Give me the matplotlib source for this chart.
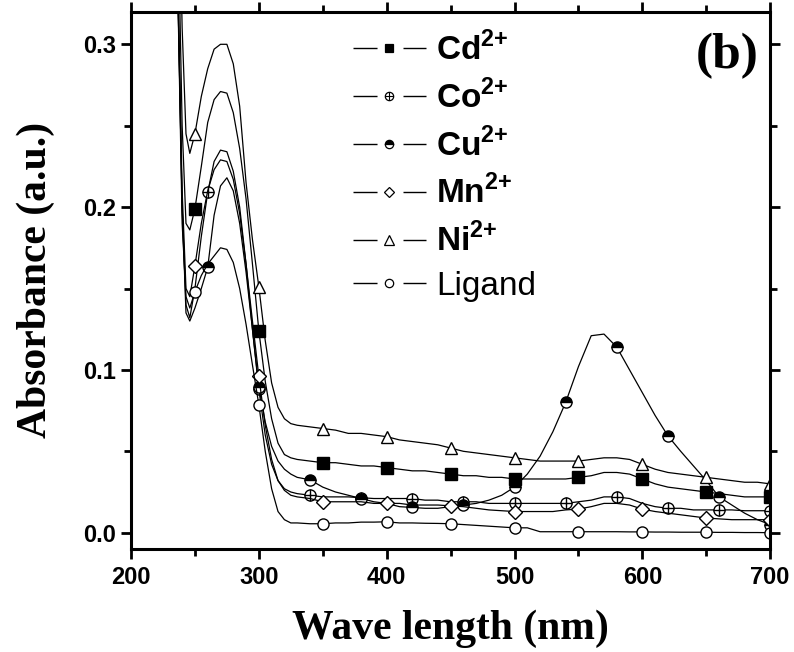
import matplotlib
matplotlib.use("Agg")
import matplotlib.pyplot as plt
from matplotlib.lines import Line2D
from matplotlib.legend_handler import HandlerTuple
from matplotlib.ticker import MultipleLocator

plt.rcParams["font.family"] = ["Liberation Sans", "DejaVu Sans"]
plt.rcParams["mathtext.fontset"] = "custom"
plt.rcParams["mathtext.rm"] = "Liberation Sans:bold"
plt.rcParams["mathtext.bf"] = "Liberation Sans:bold"

# shared wavelength grid (nm)
wavelength = [235, 240, 243, 246, 250, 255, 260, 265, 270, 275, 280, 285, 290, 295,
              300, 305, 310, 315, 320, 325, 330, 340, 350, 360, 370, 380, 390, 400,
              410, 420, 430, 440, 450, 460, 470, 480, 490, 500, 510, 520, 530, 540,
              550, 560, 570, 580, 590, 600, 610, 620, 630, 640, 650, 660, 670, 680,
              690, 700]

cd = [0.45, 0.25, 0.19, 0.186, 0.199, 0.225, 0.252, 0.266, 0.271, 0.270, 0.258, 0.236, 0.205, 0.165,
      0.124, 0.093, 0.070, 0.055, 0.048, 0.046, 0.045, 0.044, 0.043, 0.043, 0.042, 0.041, 0.041, 0.040,
      0.039, 0.038, 0.038, 0.037, 0.036, 0.035, 0.035, 0.034, 0.034, 0.033, 0.033, 0.033, 0.033, 0.033,
      0.034, 0.035, 0.037, 0.037, 0.036, 0.033, 0.030, 0.028, 0.027, 0.026, 0.025, 0.024, 0.023, 0.022,
      0.022, 0.022]
co = [0.40, 0.20, 0.14, 0.132, 0.150, 0.182, 0.209, 0.228, 0.235, 0.234, 0.222, 0.200, 0.165, 0.125,
      0.088, 0.060, 0.042, 0.032, 0.027, 0.025, 0.024, 0.023, 0.022, 0.022, 0.022, 0.0215, 0.021, 0.021,
      0.021, 0.021, 0.020, 0.020, 0.019, 0.019, 0.019, 0.018, 0.018, 0.018, 0.018, 0.018, 0.018, 0.018,
      0.019, 0.020, 0.022, 0.022, 0.021, 0.018, 0.016, 0.015, 0.015, 0.014, 0.014, 0.014, 0.014, 0.0135,
      0.0135, 0.0135]
cu = [0.40, 0.20, 0.135, 0.130, 0.138, 0.150, 0.163, 0.195, 0.213, 0.218, 0.210, 0.190, 0.160, 0.125,
      0.0895, 0.068, 0.053, 0.044, 0.039, 0.036, 0.034, 0.0325, 0.028, 0.025, 0.023, 0.021, 0.019, 0.018,
      0.016, 0.0155, 0.015, 0.015, 0.016, 0.017, 0.018, 0.020, 0.023, 0.028, 0.036, 0.047, 0.062, 0.080,
      0.102, 0.121, 0.122, 0.114, 0.100, 0.086, 0.072, 0.0595, 0.050, 0.041, 0.032, 0.022, 0.017, 0.012,
      0.008, 0.005]
mn = [0.40, 0.21, 0.15, 0.145, 0.164, 0.190, 0.210, 0.223, 0.229, 0.228, 0.217, 0.196, 0.165, 0.130,
      0.096, 0.066, 0.045, 0.032, 0.026, 0.023, 0.022, 0.021, 0.019, 0.019, 0.019, 0.019, 0.018, 0.018,
      0.018, 0.017, 0.017, 0.017, 0.0165, 0.016, 0.015, 0.014, 0.0135, 0.013, 0.013, 0.013, 0.013, 0.014,
      0.0145, 0.016, 0.018, 0.018, 0.017, 0.0145, 0.013, 0.012, 0.011, 0.010, 0.009, 0.0085, 0.008, 0.008,
      0.008, 0.008]
ni = [0.50, 0.31, 0.245, 0.233, 0.245, 0.268, 0.285, 0.297, 0.300, 0.300, 0.288, 0.262, 0.215, 0.180,
      0.151, 0.118, 0.092, 0.077, 0.070, 0.067, 0.066, 0.065, 0.064, 0.063, 0.061, 0.061, 0.060, 0.059,
      0.057, 0.056, 0.055, 0.054, 0.052, 0.050, 0.049, 0.048, 0.047, 0.046, 0.045, 0.044, 0.044, 0.044,
      0.044, 0.045, 0.046, 0.046, 0.045, 0.042, 0.039, 0.037, 0.036, 0.035, 0.034, 0.033, 0.032, 0.031,
      0.031, 0.030]
ligand = [0.40, 0.19, 0.145, 0.138, 0.148, 0.158, 0.165, 0.170, 0.175, 0.174, 0.166, 0.150, 0.128, 0.103,
          0.0785, 0.050, 0.027, 0.013, 0.008, 0.006, 0.006, 0.0055, 0.0055, 0.006, 0.006, 0.0065, 0.0065, 0.0067,
          0.006, 0.006, 0.0058, 0.0057, 0.0055, 0.005, 0.0045, 0.004, 0.0035, 0.003, 0.003, 0.0006, 0.0006, 0.0006,
          0.0006, 0.0006, 0.0006, 0.0006, 0.0005, 0.0005, 0.0004, 0.0004, 0.0003, 0.0003, 0.0003, 0.0002, 0.0002, 0.0001,
          0.0001, 0.0]

# where each series carries its symbols
marks_50 = [250, 300, 350, 400, 450, 500, 550, 600, 650, 700]
marks_40 = [260, 300, 340, 380, 420, 460, 500, 540, 580, 620, 660, 700]

labels = [r"Cd$^{\text{2+}}$", r"Co$^{\text{2+}}$", r"Cu$^{\text{2+}}$",
          r"Mn$^{\text{2+}}$", r"Ni$^{\text{2+}}$", "Ligand"]


def idx(marks):
    return [wavelength.index(w) for w in marks]


fig = plt.figure(figsize=(7.94, 6.52), dpi=100)
ax = fig.add_axes([0.165, 0.158, 0.805, 0.824])

lw = 0.9
ms = 8
common = dict(color="black", lw=lw, ms=ms, mec="black", mew=1.0)

ax.plot(wavelength, cd, marker="s", mfc="black", markevery=idx(marks_50), **common)
ax.plot(wavelength, co, marker="o", mfc="white", markevery=idx(marks_40), **common)
ax.plot(wavelength, co, lw=0, marker="+", ms=ms, mec="black", mew=1.0, markevery=idx(marks_40))
ax.plot(wavelength, cu, marker="o", fillstyle="top", mfc="black", mfcalt="white",
        markevery=idx(marks_40), **common)
ax.plot(wavelength, mn, marker="D", mfc="white", markevery=idx(marks_50), **{**common, "ms": 7.5})
ax.plot(wavelength, ni, marker="^", mfc="white", markevery=idx(marks_50), **{**common, "ms": 9})
ax.plot(wavelength, ligand, marker="o", mfc="white", markevery=idx(marks_50), **common)

ax.set_xlim(200, 700)
ax.set_ylim(-0.01, 0.32)

ax.xaxis.set_major_locator(MultipleLocator(100))
ax.xaxis.set_minor_locator(MultipleLocator(50))
ax.yaxis.set_major_locator(MultipleLocator(0.1))
ax.yaxis.set_minor_locator(MultipleLocator(0.05))
ax.yaxis.set_major_formatter(plt.FuncFormatter(lambda v, p: f"{v:.1f}"))

for s in ax.spines.values():
    s.set_linewidth(2.2)
ax.tick_params(which="both", direction="out", width=2, top=True, right=True)
ax.tick_params(which="major", length=7, labelsize=17)
ax.tick_params(which="minor", length=5)
ax.tick_params(axis="x", which="major", pad=5)
ax.tick_params(axis="y", which="major", pad=4)
for t in ax.get_xticklabels() + ax.get_yticklabels():
    t.set_fontweight("bold")

ax.set_xlabel("Wave length (nm)", family="Liberation Serif", fontweight="bold",
              fontsize=30, labelpad=15)
ax.set_ylabel("Absorbance (a.u.)", family="Liberation Serif", fontweight="bold",
              fontsize=30, labelpad=20)

ax.text(0.982, 0.918, "(b)", transform=ax.transAxes, ha="right", va="center",
        family="Liberation Serif", fontweight="bold", fontsize=37)

# legend proxies: short line, gap, marker, gap, short line
gap = (0, (17.3, 18.7, 17.3, 200))
pk = dict(color="black", lw=1.0, ls=gap, mec="black", mew=0.9, ms=6)
p_cd = Line2D([], [], marker="s", mfc="black", **pk)
p_co = Line2D([], [], marker="o", mfc="white", **pk)
p_co_plus = Line2D([], [], lw=0, marker="+", mec="black", mew=0.8, ms=6)
p_cu = Line2D([], [], marker="o", fillstyle="top", mfc="black", mfcalt="white", **pk)
p_mn = Line2D([], [], marker="D", mfc="white", **{**pk, "ms": 5.5})
p_ni = Line2D([], [], marker="^", mfc="white", **{**pk, "ms": 6.5})
p_lig = Line2D([], [], marker="o", mfc="white", **pk)
handles = [p_cd, (p_co, p_co_plus), p_cu, p_mn, p_ni, p_lig]

leg = ax.legend(handles, labels, loc="upper left", bbox_to_anchor=(0.339, 0.972),
                frameon=False, prop={"weight": "bold", "size": 24},
                handlelength=2.2, handletextpad=0.3, labelspacing=0.38,
                borderpad=0.15, borderaxespad=0, numpoints=1,
                handler_map={tuple: HandlerTuple(ndivide=1, pad=0)})
leg.get_texts()[5].set_fontweight("normal")

fig.savefig("out.png", dpi=100)
